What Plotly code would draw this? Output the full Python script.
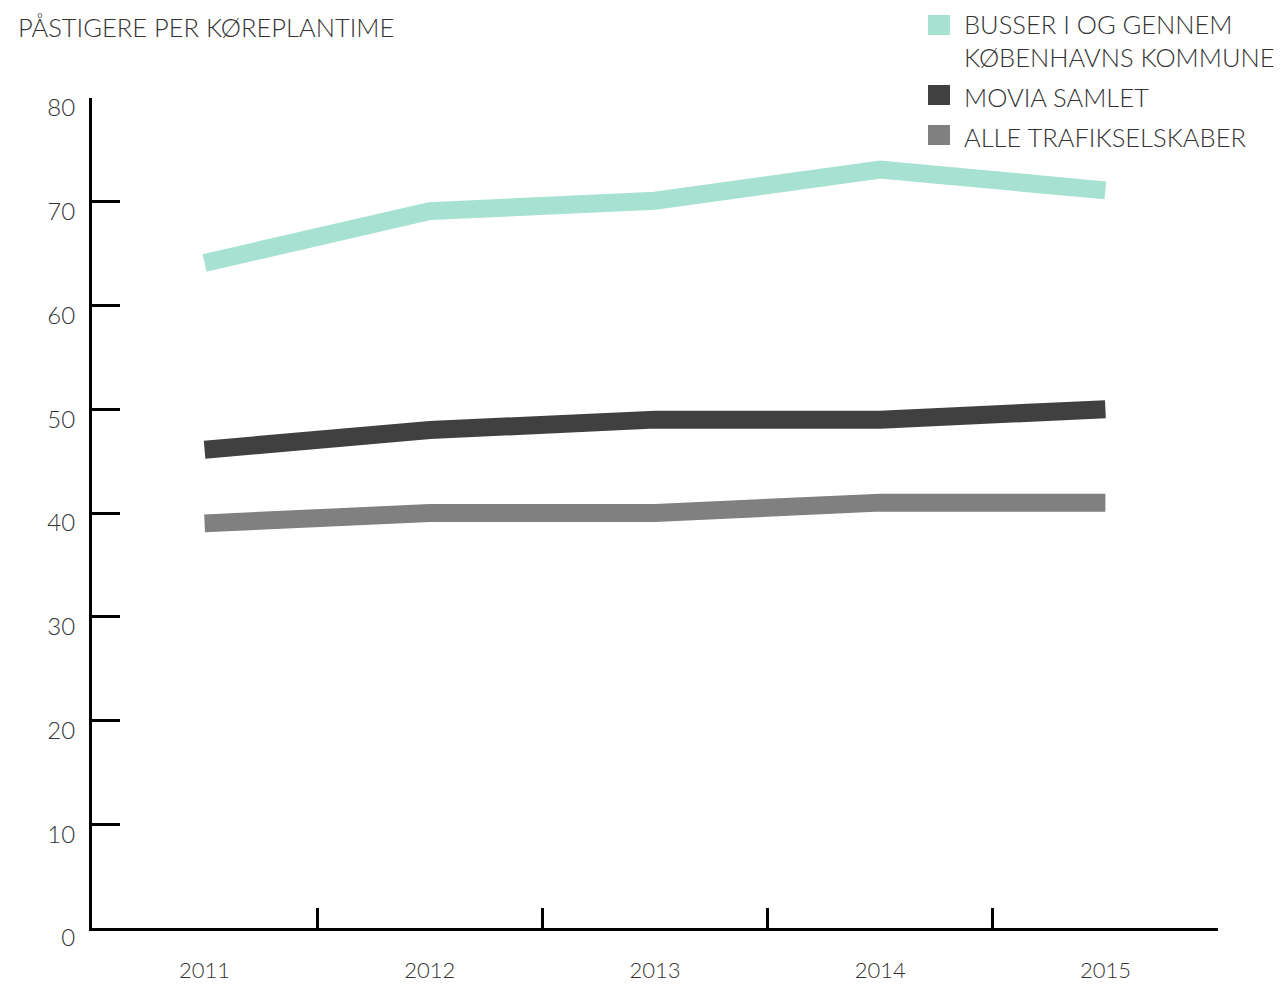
import plotly.graph_objects as go

years = ["2011", "2012", "2013", "2014", "2015"]
busser_kk = [64.1, 69.1, 70.1, 73.1, 71.1]
movia = [46.1, 48.0, 49.0, 49.0, 50.0]
alle = [39.0, 40.0, 40.0, 41.0, 41.0]

series_names = ["BUSSER I OG GENNEM<br>KØBENHAVNS KOMMUNE", "MOVIA SAMLET", "ALLE TRAFIKSELSKABER"]
series_colors = ["#a6e1d2", "#404040", "#808080"]
series_values = [busser_kk, movia, alle]

FONT = "Lato"
TXT = "#333333"
W = 300
OFF = 8  # page body margin

fig = go.Figure()
for name, col, vals in zip(series_names, series_colors, series_values):
    fig.add_trace(go.Scatter(x=years, y=vals, mode="lines", name=name,
                             line=dict(color=col, width=18), showlegend=False,
                             hoverinfo="skip"))

L, R, T, B = 92 - OFF, 1218 - OFF, 98 - OFF, 928 - OFF
FW, FH = 1284 - OFF, 985 - OFF
fig.update_layout(
    width=FW, height=FH,
    margin=dict(l=L, r=FW - R, t=T, b=FH - B, autoexpand=False),
    paper_bgcolor="white", plot_bgcolor="white",
    font=dict(family=FONT, size=24, color=TXT, weight=W),
    showlegend=False,
)
fig.update_xaxes(
    type="category", range=[-0.5, 4.5], tickson="boundaries",
    ticks="inside", ticklen=20, tickwidth=2.5, tickcolor="black",
    showline=True, linecolor="black", linewidth=3, showgrid=False, zeroline=False,
    automargin=False,
    tickfont=dict(family=FONT, size=22, color=TXT, weight=W), ticklabelstandoff=21,
)
fig.update_yaxes(
    range=[0, 80], tickvals=[0, 10, 20, 30, 40, 50, 60, 70, 80],
    ticks="inside", ticklen=28, tickwidth=2.5, tickcolor="black",
    showline=True, linecolor="black", linewidth=3, showgrid=False, zeroline=False,
    automargin=False,
    tickfont=dict(family=FONT, size=24, color=TXT, weight=W), ticklabelstandoff=9,
    ticklabelshift=10,
)

pw, ph = R - L, B - T


def px(x):
    return (x - OFF - L) / pw


def py(y):
    return (B - (y - OFF)) / ph


# title
fig.add_annotation(xref="paper", yref="paper", x=px(16), y=py(27),
                   xanchor="left", yanchor="middle", showarrow=False,
                   text="PÅSTIGERE PER KØREPLANTIME",
                   font=dict(family=FONT, size=25.5, color=TXT, weight=W))

# legend
leg_y = [25, 95, 135]
text_y = [41, 97, 137]
for name, col, ly, ty in zip(series_names, series_colors, leg_y, text_y):
    fig.add_shape(type="rect", xref="paper", yref="paper",
                  x0=px(928), x1=px(950), y0=py(ly + 10), y1=py(ly - 10),
                  fillcolor=col, line=dict(width=0))
    fig.add_annotation(xref="paper", yref="paper", x=px(962), y=py(ty),
                       xanchor="left", yanchor="middle", align="left", showarrow=False,
                       text=name, font=dict(family=FONT, size=25.5, color=TXT, weight=W))

fig.write_html("out.html")
